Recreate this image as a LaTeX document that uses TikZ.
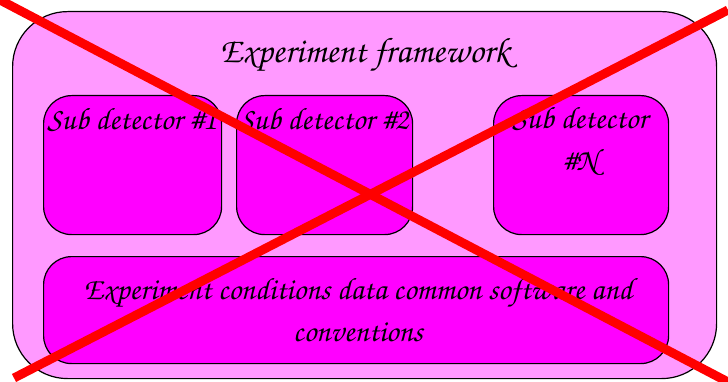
\documentclass[tikz,border=0pt]{standalone}
\usepackage[T1]{fontenc}
\definecolor{outerfill}{HTML}{FF99FF}
\definecolor{innerfill}{HTML}{FF00FF}
\begin{document}
\begin{tikzpicture}[x=1pt,y=-1pt,
  font=\fontfamily{pzc}\fontsize{31}{42}\selectfont,
  frame/.style={draw=black, line width=1.2pt, fill=outerfill, rounded corners=55pt, anchor=north west},
  part/.style={draw=black, line width=1.2pt, fill=innerfill, rounded corners=28pt, anchor=north west},
  label/.style={align=center, inner sep=0pt},
  cross/.style={draw=red, line width=9pt}]
\useasboundingbox (0,0) rectangle (728,382);
\node[frame, minimum width=704pt, minimum height=367pt] (fw) at (12,11) {};
\node[part, minimum width=178pt, minimum height=139pt] (sd1) at (43,95) {};
\node[part, minimum width=176pt, minimum height=139pt] (sd2) at (236,95) {};
\node[part, minimum width=175pt, minimum height=139pt] (sdn) at (493,95) {};
\node[part, minimum width=625pt, minimum height=107pt] (cond) at (43,256) {};
\node[label, font=\fontfamily{pzc}\fontsize{35.5}{40}\selectfont] (title) at (365,55) {Experiment framework};
\node[label] (l1) at (132,120) {Sub detector \#1};
\node[label] (l2) at (324,120) {Sub detector \#2};
\node[label] (ln) at (580,141) {Sub detector\\\#N};
\node[label] (lc) at (358,310) {Experiment conditions data common software and\\conventions};
\coordinate (c1) at (0,0);
\coordinate (c2) at (728,382);
\coordinate (c3) at (14,378);
\coordinate (c4) at (728,10);
\draw[cross] (c1) -- (c2);
\draw[cross] (c3) -- (c4);
\end{tikzpicture}
\end{document}
